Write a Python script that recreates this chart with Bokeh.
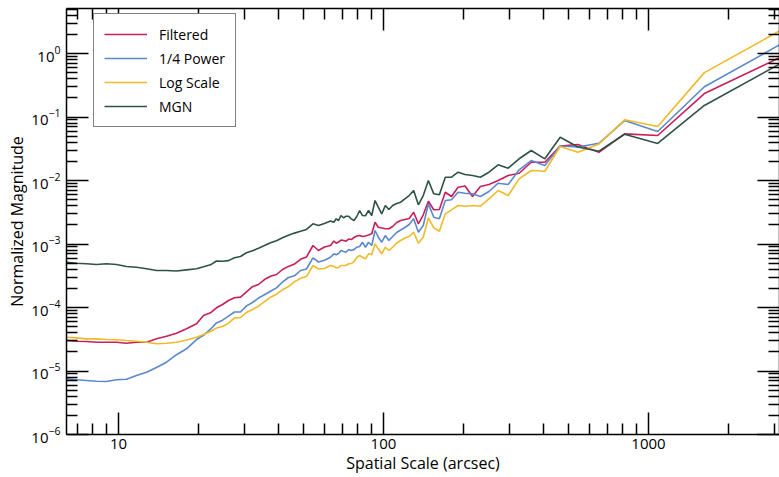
from bokeh.plotting import figure
from bokeh.models import (Range1d, LogAxis, FixedTicker, CustomJSTickFormatter,
                          Legend, LegendItem, LogTickFormatter)
from bokeh.embed import file_html
from bokeh.resources import INLINE

# ---------------- data ----------------
scale_arcsec = [6.37, 6.94, 7.57, 8.26, 9.01, 9.83, 10.72, 11.69, 12.76, 13.91,
                15.18, 16.55, 18.06, 19.70, 20.93, 22.24, 23.43, 24.69, 26.01, 27.40,
                28.87, 30.41, 32.04, 33.75, 35.56, 37.46, 39.47, 41.57, 43.80, 46.14,
                48.62, 51.21, 54.2, 56.84, 59.88, 63.10,
                65.0, 66.3, 67.7, 69.1, 70.7, 72.2, 73.9, 75.6, 77.4, 79.3,
                81.3, 83.3, 85.5, 87.8, 90.3, 92.9, 95.6, 98.5, 101.6, 104.8,
                108.3, 112.1, 116.1, 120.4, 125.0, 130.0, 135.4, 141.3, 147.7, 154.8,
                162.5, 171.1, 180.6, 191.2, 203.1, 216.7, 232.1, 250.0, 270.8, 295.5,
                325.0, 361.1, 406.3, 464.3, 541.7, 650.0, 812.5, 1083.3, 1625.0, 3250.0]

filtered = [3.02e-5, 2.95e-5, 2.91e-5, 2.84e-5, 2.84e-5, 2.84e-5, 2.74e-5, 2.84e-5, 2.84e-5, 3.21e-5,
            3.52e-5, 3.94e-5, 4.62e-5, 5.54e-5, 7.48e-5, 8.25e-5, 9.89e-5, 1.115e-4, 1.289e-4, 1.427e-4,
            1.458e-4, 1.767e-4, 2.126e-4, 2.303e-4, 2.76e-4, 3.10e-4, 3.31e-4, 3.97e-4, 4.44e-4, 4.83e-4,
            5.74e-4, 6.24e-4, 9.47e-4, 7.90e-4, 8.97e-4, 9.47e-4,
            1.117e-3, 1.029e-3, 1.075e-3, 1.155e-3, 1.136e-3, 1.107e-3, 1.199e-3, 1.177e-3, 1.266e-3, 1.337e-3,
            1.361e-3, 1.313e-3, 1.337e-3, 1.385e-3, 1.447e-3, 2.205e-3, 1.839e-3, 1.786e-3, 1.736e-3, 1.736e-3,
            1.886e-3, 2.181e-3, 2.346e-3, 2.431e-3, 2.521e-3, 3.168e-3, 2.08e-3, 2.883e-3, 4.721e-3, 3.47e-3,
            3.494e-3, 6.54e-3, 5.598e-3, 7.842e-3, 8.191e-3, 5.598e-3, 8.043e-3, 8.65e-3, 1.0e-2, 1.199e-2,
            1.303e-2, 1.942e-2, 1.942e-2, 3.5e-2, 3.69e-2, 2.79e-2, 5.43e-2, 5.12e-2, 0.234, 0.93]

quarter_power = [7.54e-6, 7.27e-6, 7.09e-6, 6.91e-6, 6.83e-6, 7.27e-6, 7.43e-6, 8.50e-6, 9.57e-6, 1.136e-5,
                 1.376e-5, 1.806e-5, 2.237e-5, 3.13e-5, 3.65e-5, 4.55e-5, 5.72e-5, 6.31e-5, 7.32e-5, 8.50e-5,
                 8.48e-5, 1.063e-4, 1.199e-4, 1.411e-4, 1.591e-4, 1.80e-4, 2.036e-4, 2.52e-4, 2.97e-4, 3.16e-4,
                 3.83e-4, 4.04e-4, 6.06e-4, 5.21e-4, 5.56e-4, 6.20e-4,
                 7.01e-4, 6.76e-4, 7.09e-4, 7.9e-4, 7.62e-4, 7.43e-4, 8.19e-4, 7.9e-4, 8.19e-4, 8.9e-4,
                 9.13e-4, 1.067e-3, 8.9e-4, 1.067e-3, 9.47e-4, 1.632e-3, 1.28e-3, 1.067e-3, 1.361e-3, 1.136e-3,
                 1.313e-3, 1.518e-3, 1.662e-3, 1.819e-3, 2.028e-3, 2.494e-3, 1.534e-3, 1.956e-3, 4.295e-3, 2.642e-3,
                 2.494e-3, 4.842e-3, 4.966e-3, 6.54e-3, 6.31e-3, 6.172e-3, 5.598e-3, 6.709e-3, 9.069e-3, 8.65e-3,
                 1.474e-2, 2.065e-2, 1.722e-2, 3.5e-2, 3.37e-2, 3.86e-2, 8.8e-2, 5.92e-2, 0.30, 1.50]

log_scale = [3.41e-5, 3.33e-5, 3.21e-5, 3.21e-5, 3.13e-5, 3.10e-5, 3.02e-5, 2.95e-5, 2.84e-5, 2.68e-5,
             2.74e-5, 2.84e-5, 3.08e-5, 3.41e-5, 3.76e-5, 4.19e-5, 4.74e-5, 5.02e-5, 5.66e-5, 6.86e-5,
             6.96e-5, 8.37e-5, 9.30e-5, 1.048e-4, 1.234e-4, 1.453e-4, 1.62e-4, 1.90e-4, 2.141e-4, 2.55e-4,
             2.88e-4, 3.07e-4, 4.59e-4, 4.04e-4, 4.11e-4, 4.59e-4,
             4.43e-4, 4.2e-4, 4.27e-4, 4.59e-4, 4.59e-4, 4.59e-4, 4.88e-4, 4.93e-4, 5.3e-4, 6.13e-4,
             6.59e-4, 6.2e-4, 5.85e-4, 7.01e-4, 6.83e-4, 1.007e-3, 8.4e-4, 7.01e-4, 8.9e-4, 7.9e-4,
             8.9e-4, 1.037e-3, 1.136e-3, 1.243e-3, 1.313e-3, 1.534e-3, 1.029e-3, 1.28e-3, 2.586e-3, 1.8e-3,
             1.591e-3, 2.99e-3, 3.456e-3, 4.041e-3, 3.937e-3, 4.041e-3, 3.937e-3, 5.148e-3, 6.96e-3, 5.804e-3,
             1.063e-2, 1.437e-2, 1.401e-2, 3.43e-2, 2.79e-2, 3.76e-2, 9.04e-2, 7.08e-2, 0.50, 2.49]

mgn = [5.17e-4, 4.98e-4, 4.88e-4, 4.76e-4, 4.88e-4, 4.76e-4, 4.42e-4, 4.31e-4, 4.07e-4, 3.83e-4,
       3.83e-4, 3.76e-4, 3.92e-4, 4.07e-4, 4.37e-4, 4.70e-4, 5.40e-4, 5.34e-4, 5.48e-4, 6.08e-4,
       6.35e-4, 7.29e-4, 7.81e-4, 8.59e-4, 9.47e-4, 1.048e-3, 1.127e-3, 1.252e-3, 1.371e-3, 1.485e-3,
       1.585e-3, 1.698e-3, 2.08e-3, 1.956e-3, 2.11e-3, 2.30e-3,
       2.205e-3, 2.494e-3, 2.346e-3, 2.811e-3, 2.586e-3, 2.741e-3, 2.741e-3, 2.494e-3, 2.346e-3, 2.711e-3,
       3.369e-3, 2.811e-3, 2.79e-3, 3.369e-3, 2.811e-3, 4.842e-3, 3.797e-3, 2.99e-3, 4.041e-3, 3.494e-3,
       4.041e-3, 4.343e-3, 4.553e-3, 5.148e-3, 5.804e-3, 6.96e-3, 4.143e-3, 5.804e-3, 1.0e-2, 6.172e-3,
       5.953e-3, 1.127e-2, 1.127e-2, 1.351e-2, 1.243e-2, 1.199e-2, 1.127e-2, 1.351e-2, 1.767e-2, 1.562e-2,
       2.2e-2, 2.968e-2, 2.197e-2, 4.81e-2, 3.37e-2, 2.89e-2, 5.35e-2, 3.83e-2, 0.152, 0.75]

series_names = ["Filtered", "1/4 Power", "Log Scale", "MGN"]
series_colors = ["#C81E5A", "#5B88CC", "#F0BA28", "#2E5344"]

x_major = [10, 100, 1000]
y_major = [1e-6, 1e-5, 1e-4, 1e-3, 1e-2, 1e-1, 1e0]

X_START, X_END = 6.365, 3122
Y_START, Y_END = 1e-6, 5.12

FONT = "Open Sans"

# ---------------- figure ----------------
p = figure(width=779, height=477, x_axis_type="log", y_axis_type="log",
           x_range=Range1d(X_START, X_END), y_range=Range1d(Y_START, Y_END),
           output_backend="svg", toolbar_location=None,
           min_border_left=66, min_border_right=0, min_border_top=8, min_border_bottom=43)
p.grid.visible = False
p.outline_line_color = None
p.background_fill_color = "white"
p.border_fill_color = "white"

x_minor = [m * 10 ** e for e in range(0, 4) for m in range(2, 10)
           if X_START <= m * 10 ** e <= X_END]
y_minor = [m * 10.0 ** e for e in range(-6, 1) for m in range(2, 10)]
xticker = FixedTicker(ticks=x_major, minor_ticks=x_minor)
yticker = FixedTicker(ticks=y_major, minor_ticks=y_minor)


def style(ax):
    ax.axis_line_color = "black"
    ax.axis_line_width = 1.5
    ax.major_tick_line_color = "black"
    ax.minor_tick_line_color = "black"
    ax.major_tick_line_width = 1.5
    ax.minor_tick_line_width = 1.5
    ax.major_tick_in = 22
    ax.major_tick_out = 0
    ax.minor_tick_in = 11
    ax.minor_tick_out = 0
    ax.major_label_text_font = FONT
    ax.major_label_text_font_size = "15px"
    ax.major_label_text_color = "black"
    ax.axis_label_text_font = FONT
    ax.axis_label_text_font_size = "16px"
    ax.axis_label_text_font_style = "normal"
    ax.axis_label_text_color = "black"


xa = p.xaxis[0]
xa.ticker = xticker
xa.formatter = CustomJSTickFormatter(code="return tick.toFixed(0);")
xa.axis_label = "Spatial Scale (arcsec)"
style(xa)
xa.major_label_standoff = 4
xa.axis_label_standoff = 0

ya = p.yaxis[0]
ya.ticker = yticker
ya.formatter = LogTickFormatter()
ya.axis_label = "Normalized Magnitude"
style(ya)
ya.major_label_standoff = 6
ya.axis_label_standoff = 0

for place, tk in (("above", xticker), ("right", yticker)):
    ax = LogAxis(ticker=tk, formatter=CustomJSTickFormatter(code="return '';"))
    style(ax)
    ax.major_label_text_font_size = "0px"
    ax.major_label_standoff = 0
    p.add_layout(ax, place)

series = [filtered, quarter_power, log_scale, mgn]
items = []
for name, color, ys in zip(series_names, series_colors, series):
    r = p.line(scale_arcsec, ys, line_color=color, line_width=1.6)
    items.append(LegendItem(label=name, renderers=[r]))

legend = Legend(items=items, location=(27, 307))
legend.border_line_color = "black"
legend.border_line_width = 1.5
legend.background_fill_color = "white"
legend.background_fill_alpha = 1.0
legend.padding = 10
legend.spacing = 4
legend.margin = 0
legend.glyph_height = 20
legend.glyph_width = 43
legend.label_height = 20
legend.label_standoff = 12
legend.label_text_font = FONT
legend.label_text_font_size = "14px"
legend.label_text_color = "black"
p.add_layout(legend)

open("out.html", "w").write(file_html(p, INLINE))
